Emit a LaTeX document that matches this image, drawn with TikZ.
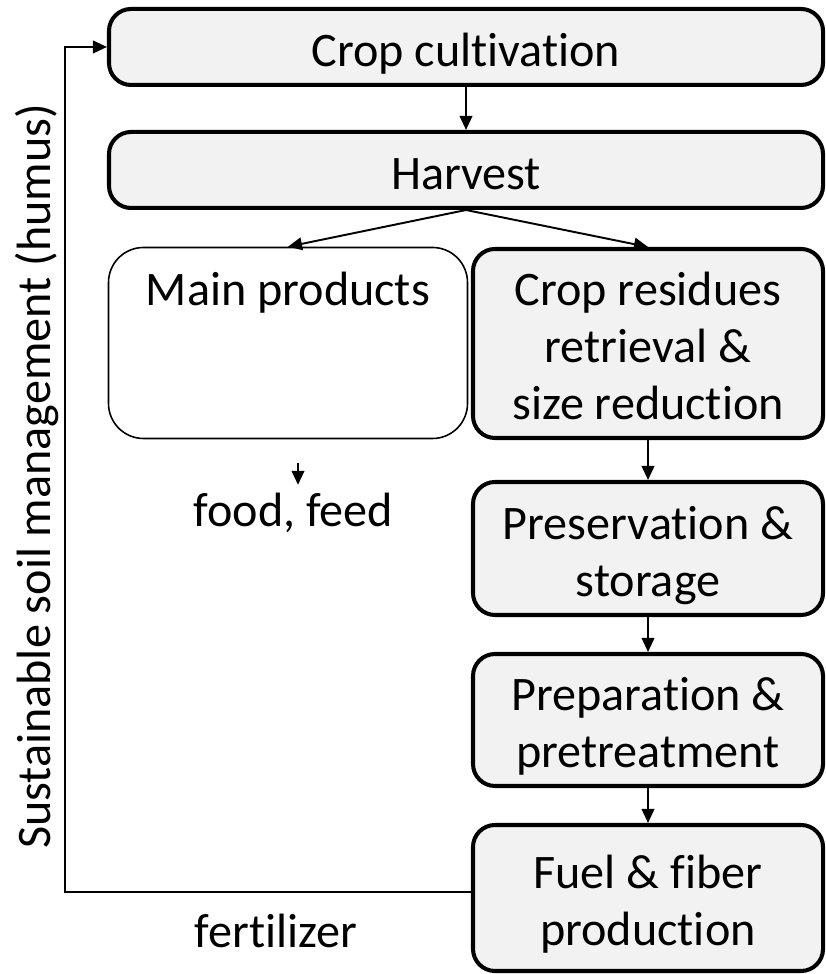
\documentclass[tikz,border=0pt]{standalone}
\usepackage{fontspec}
\setmainfont{Carlito}[Ligatures={NoCommon,NoContextual}]
\usetikzlibrary{arrows.meta}
\definecolor{boxgray}{HTML}{F2F2F2}
\newcommand\linestrut{\rule[-2.6pt]{0pt}{16.2pt}}

\begin{document}
\begin{tikzpicture}[
	every node/.style={font=\fontsize{13.7}{16.2}\selectfont},
	stepbox/.style={draw=black, line width=1.15pt, fill=boxgray, rounded corners=0.22cm, align=center, inner sep=0pt},
	mainbox/.style={draw=black, line width=0.45pt, fill=white, rounded corners=0.35cm, align=center, inner sep=0pt},
	arr/.style={-{Triangle[length=4pt,width=3.6pt]}, line width=0.55pt}
]
	\useasboundingbox (0,0) rectangle (8.25,9.74);

		% boxes
	\node[stepbox, minimum width=7.14cm, minimum height=0.76cm] (cult) at (4.66,9.27) {\linestrut Crop cultivation};
	\node[stepbox, minimum width=7.14cm, minimum height=0.76cm] (harv) at (4.66,8.04) {\linestrut Harvest};
	\node[mainbox, minimum width=3.59cm, minimum height=1.91cm] (main) at (2.88,6.31) {\linestrut Main products\\\mbox{}\\\linestrut};
	\node[stepbox, minimum width=3.50cm, minimum height=1.89cm] (resid) at (6.48,6.305) {\linestrut Crop residues\\retrieval \&\\size reduction\linestrut};
	\node[stepbox, minimum width=3.50cm, minimum height=1.33cm] (pres) at (6.48,4.255) {\linestrut Preservation \&\\storage\linestrut};
	\node[stepbox, minimum width=3.50cm, minimum height=1.32cm] (prep) at (6.48,2.54) {\linestrut Preparation \&\\pretreatment\linestrut};
	\node[stepbox, minimum width=3.50cm, minimum height=1.46cm] (fuel) at (6.48,0.76) {\linestrut Fuel \& fiber\\production\linestrut};

		% label
	\node[anchor=base, inner sep=0.08cm] (food) at (2.935,4.47) {food, feed};
	\node[anchor=base] (fert) at (2.76,0.26) {fertilizer};
	\node[anchor=base, rotate=90] (soil) at (0.50,4.975) {Sustainable soil management (humus)};

		% arrows
	\coordinate (fd) at (2.98,5.11);
	\coordinate (back) at (0.65,0.82);
	\draw[arr] (cult) -- (harv);
	\draw[arr] (harv.south) -- (main.north);
	\draw[arr] (harv.south) -- (resid.north);
	\draw[arr] (resid) -- (pres);
	\draw[arr] (pres) -- (prep);
	\draw[arr] (prep) -- (fuel);
	\draw[arr] (fd) -- (fd |- food.north);
	\draw[arr] ([yshift=0.06cm]fuel.west) -- (back) |- (cult.west);
\end{tikzpicture}
\end{document}
